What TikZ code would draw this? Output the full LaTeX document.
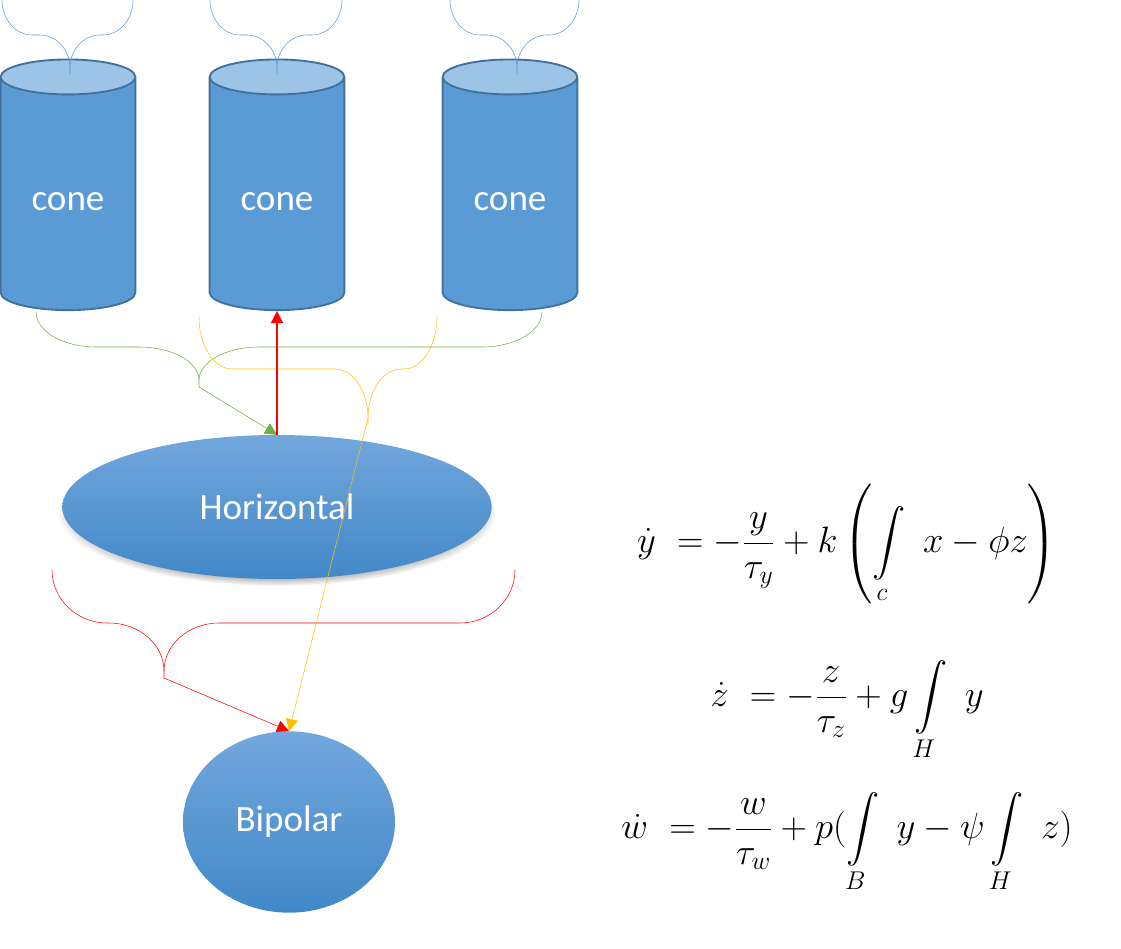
\RequirePackage{fix-cm}
\documentclass[tikz,border=0pt]{standalone}
\usepackage{amsmath}
\usepackage{fontspec}
\newfontfamily\calibri{Carlito}
\usepackage{tikz}
\usetikzlibrary{arrows.meta,
shapes.geometric,
shadows,
fadings
}
\definecolor{conebody}{RGB}{91,155,213}
\definecolor{conetop}{RGB}{157,195,230}
\definecolor{coneline}{RGB}{65,113,156}
\definecolor{gbrace}{RGB}{112,173,71}
\definecolor{ybrace}{RGB}{255,192,0}
\definecolor{ovaltop}{RGB}{114,167,220}
\definecolor{ovalbot}{RGB}{66,136,200}
\tikzset{>={Triangle[length=9pt, width=9pt]}}
% brace: colour, left x, end y, middle y, tip x, tip y, right x, radius
\newcommand{\curlybrace}[8]{%
  \draw[#1] (#2,#3) .. controls (#2,{#3+0.55*(#4-#3)}) and ({#2+0.45*#8},#4) .. ({#2+#8},#4)
    -- ({#5-#8},#4) .. controls ({#5-0.45*#8},#4) and (#5,{#4+0.45*(#6-7-#4)}) .. (#5,{#6-7}) -- (#5,#6);
  \draw[#1] (#5,{#6-7}) .. controls (#5,{#4+0.45*(#6-7-#4)}) and ({#5+0.45*#8},#4) .. ({#5+#8},#4)
    -- ({#7-#8},#4) .. controls ({#7-0.45*#8},#4) and (#7,{#3+0.55*(#4-#3)}) .. (#7,#3);
}

\begin{document}
\begin{tikzpicture}[x=0.75pt, y=-0.75pt,
    conecyl/.style={cylinder, shape border rotate=90, aspect=0.48, draw=coneline, line width=1.4pt,
      cylinder uses custom fill, cylinder body fill=conebody, cylinder end fill=conetop,
      minimum width=101pt, minimum height=188pt, inner sep=0pt, text height=25pt, text depth=0pt,
      text=white, font=\calibri\fontsize{27.8}{30}\selectfont},
    oval/.style={ellipse, top color=ovaltop, bottom color=ovalbot, inner sep=0pt,
      text=white, font=\calibri\fontsize{27.8}{30}\selectfont},
    eqn/.style={font=\fontsize{27.5}{32}\selectfont}]
    \useasboundingbox (0,0) rectangle (1121,949);

    % cones and their braces
    \node[conecyl] (cone1) at (68,194) {cone};
    \node[conecyl] (cone2) at (277,194) {cone};
    \node[conecyl] (cone3) at (510,194) {cone};
    \curlybrace{conebody}{2}{0}{35}{70}{75}{133}{30}
    \curlybrace{conebody}{210}{0}{35}{277}{75}{342}{30}
    \curlybrace{conebody}{450}{0}{35}{517}{75}{579}{30}

    % horizontal and bipolar cells
    \node[oval, minimum width=322pt, minimum height=108pt,
      circular drop shadow={shadow xshift=0pt, shadow yshift=-4pt, shadow scale=1.02, opacity=0.8}]
      (horiz) at (277,507) {Horizontal};
    \node[oval, minimum width=159pt, minimum height=136pt] (bipolar) at (289,822) {Bipolar};

    % braces collecting the inputs
    \curlybrace{gbrace}{36}{312}{347}{199}{387}{542}{60}
    \curlybrace{ybrace}{199}{317}{369}{368}{425}{437}{33}
    \curlybrace{red}{52}{570}{623}{164}{678}{515}{55}
    \coordinate (gtip) at (199,387);
    \coordinate (ytip) at (368,418);
    \coordinate (rtip) at (164,678);

    \draw[gbrace, ->] (gtip) -- (horiz.north);
    \draw[red, ->, line width=1pt] (horiz.north) -- (cone2.south);
    \draw[ybrace, ->] (ytip) -- (bipolar.north);
    \draw[red, ->] (rtip) -- (bipolar.north);

    % equations
    \node[eqn] (eqy) at (847,544) {$\displaystyle \dot{y}\ = -\frac{y}{\tau_y} + k\left(\int\limits_{c}\ x - \phi z\right)$};
    \node[eqn] (eqz) at (847,711) {$\displaystyle \dot{z}\ = -\frac{z}{\tau_z} + g\int\limits_{H}\ y$};
    \node[eqn] (eqw) at (847,843) {$\displaystyle \dot{w}\ = -\frac{w}{\tau_w} + p(\int\limits_{B}\ y - \psi\int\limits_{H}\ z)$};
\end{tikzpicture}
\end{document}
